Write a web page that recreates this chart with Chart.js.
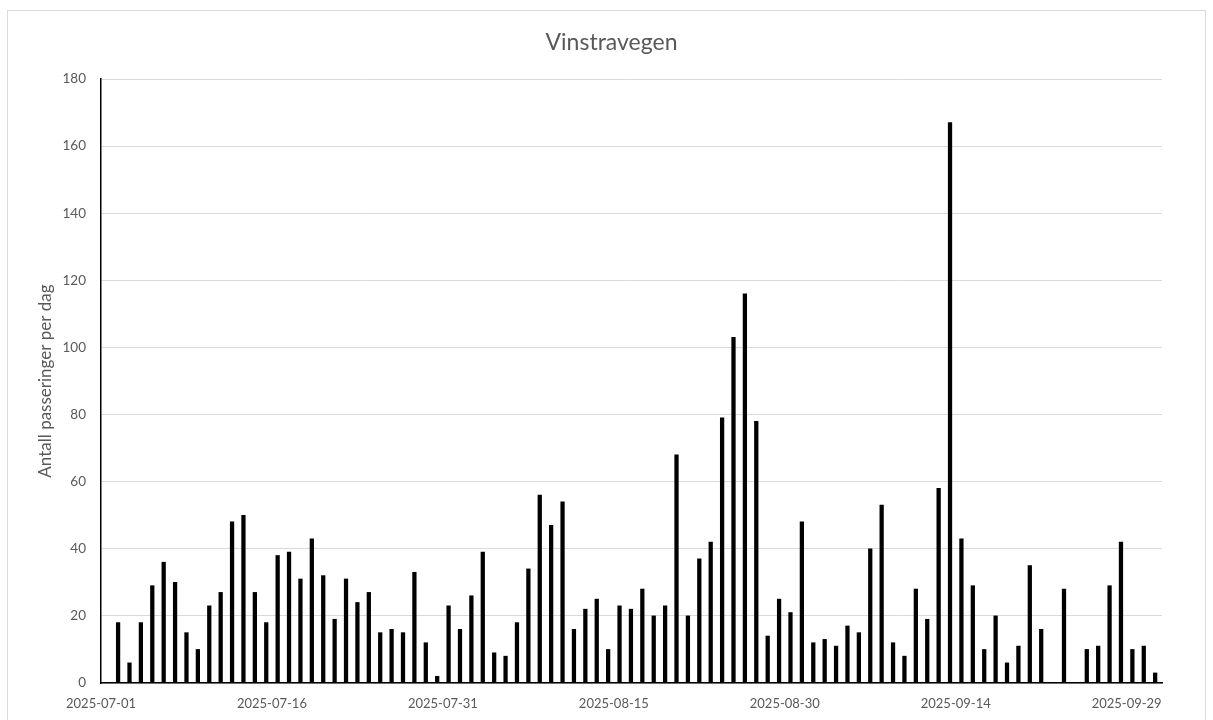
<!DOCTYPE html>
<html>
<head>
<meta charset="utf-8">
<script src="https://cdn.jsdelivr.net/npm/chart.js@4.4.1/dist/chart.umd.min.js"></script>
<style>
  html, body { margin: 0; padding: 0; background: #fff; }
  canvas { display: block; }
</style>
</head>
<body>
<canvas id="vinstraCanvas" width="1213" height="720"></canvas>
<script>
// passeringer per dag, 2025-07-01 .. 2025-09-30 (null = ingen data)
const startDate = '2025-07-01'
const julyCounts = [18, 6, 18, 29, 36, 30, 15, 10, 23, 27, 48, 50, 27, 18, 38, 39, 31, 43, 32, 19, 31, 24, 27, 15, 16, 15, 33, 12, 2, 23, 16]
const augustCounts = [26, 39, 9, 8, 18, 34, 56, 47, 54, 16, 22, 25, 10, 23, 22, 28, 20, 23, 68, 20, 37, 42, 79, 103, 116, 78, 14, 25, 21, 48, 12]
const septemberCounts = [13, 11, 17, 15, 40, 53, 12, 8, 28, 19, 58, 167, 43, 29, 10, 20, 6, 11, 35, 16, null, 28, null, 10, 11, 29, 42, 10, 11, 3]
const tickLabels = ['2025-07-01', '2025-07-16', '2025-07-31', '2025-08-15', '2025-08-30', '2025-09-14', '2025-09-29']
const yTicks = [0, 20, 40, 60, 80, 100, 120, 140, 160, 180]

const counts = julyCounts.concat(augustCounts, septemberCounts)
const points = counts.map((v, i) => ({x: i, y: v}))

const grey = '#595959'
const fontFamily = 'Lato, "Open Sans", sans-serif'

// dato-aksen i originalen ligger 1.5 dag foran stolpene
const tickShift = -1.5

const frame = {
  id: 'frame',
  beforeDraw(chart) {
    const ctx = chart.ctx
    ctx.save()
    ctx.strokeStyle = '#d9d9d9'
    ctx.lineWidth = 1
    ctx.strokeRect(7.5, 10.5, 1198, 720)
    ctx.restore()
  }
}

const ctx = document.getElementById('vinstraCanvas').getContext('2d')
new Chart(ctx, {
  type: 'bar',
  data: {
    datasets: [{
      label: 'Vinstravegen',
      data: points,
      backgroundColor: '#000',
      borderWidth: 0,
      barThickness: 3.6
    }]
  },
  options: {
    responsive: false,
    animation: false,
    layout: {padding: {left: 10, right: 0, top: 0, bottom: 0}},
    plugins: {
      legend: {display: false},
      tooltip: {enabled: false},
      title: {
        display: true,
        text: 'Vinstravegen',
        color: grey,
        font: {family: fontFamily, size: 23, weight: 'normal'},
        padding: {top: 29, bottom: 22.4}
      }
    },
    scales: {
      x: {
        type: 'linear',
        min: tickShift,
        max: 91.6,
        offset: false,
        grid: {display: false, drawTicks: false},
        border: {display: true, color: '#000', width: 1.5},
        afterBuildTicks: s => {
          s.ticks = tickLabels.map((t, k) => ({value: k * 15 + tickShift}))
        },
        afterFit: s => { s.height = 37 },
        ticks: {
          autoSkip: false,
          maxRotation: 0,
          padding: 13,
          color: grey,
          font: {family: fontFamily, size: 13}
        ,
          callback: v => tickLabels[Math.round((v - tickShift) / 15)]
        }
      },
      y: {
        min: 0,
        max: 180,
        afterBuildTicks: s => { s.ticks = yTicks.map(v => ({value: v})) },
        afterFit: s => { s.width = 91 },
        grid: {color: '#d9d9d9', lineWidth: 1, drawTicks: false},
        border: {display: true, color: '#000', width: 1.5},
        ticks: {
          padding: 15,
          color: grey,
          font: {family: fontFamily, size: 13.5}
        },
        title: {
          display: true,
          text: 'Antall passeringer per dag',
          color: grey,
          font: {family: fontFamily, size: 17},
          padding: {top: 25, bottom: 0}
        }
      },
      yRight: {
        position: 'right',
        display: true,
        grid: {display: false},
        border: {display: false},
        ticks: {display: false},
        afterFit: s => { s.width = 51 }
      }
    }
  },
  plugins: [frame]
})
</script>
</body>
</html>
